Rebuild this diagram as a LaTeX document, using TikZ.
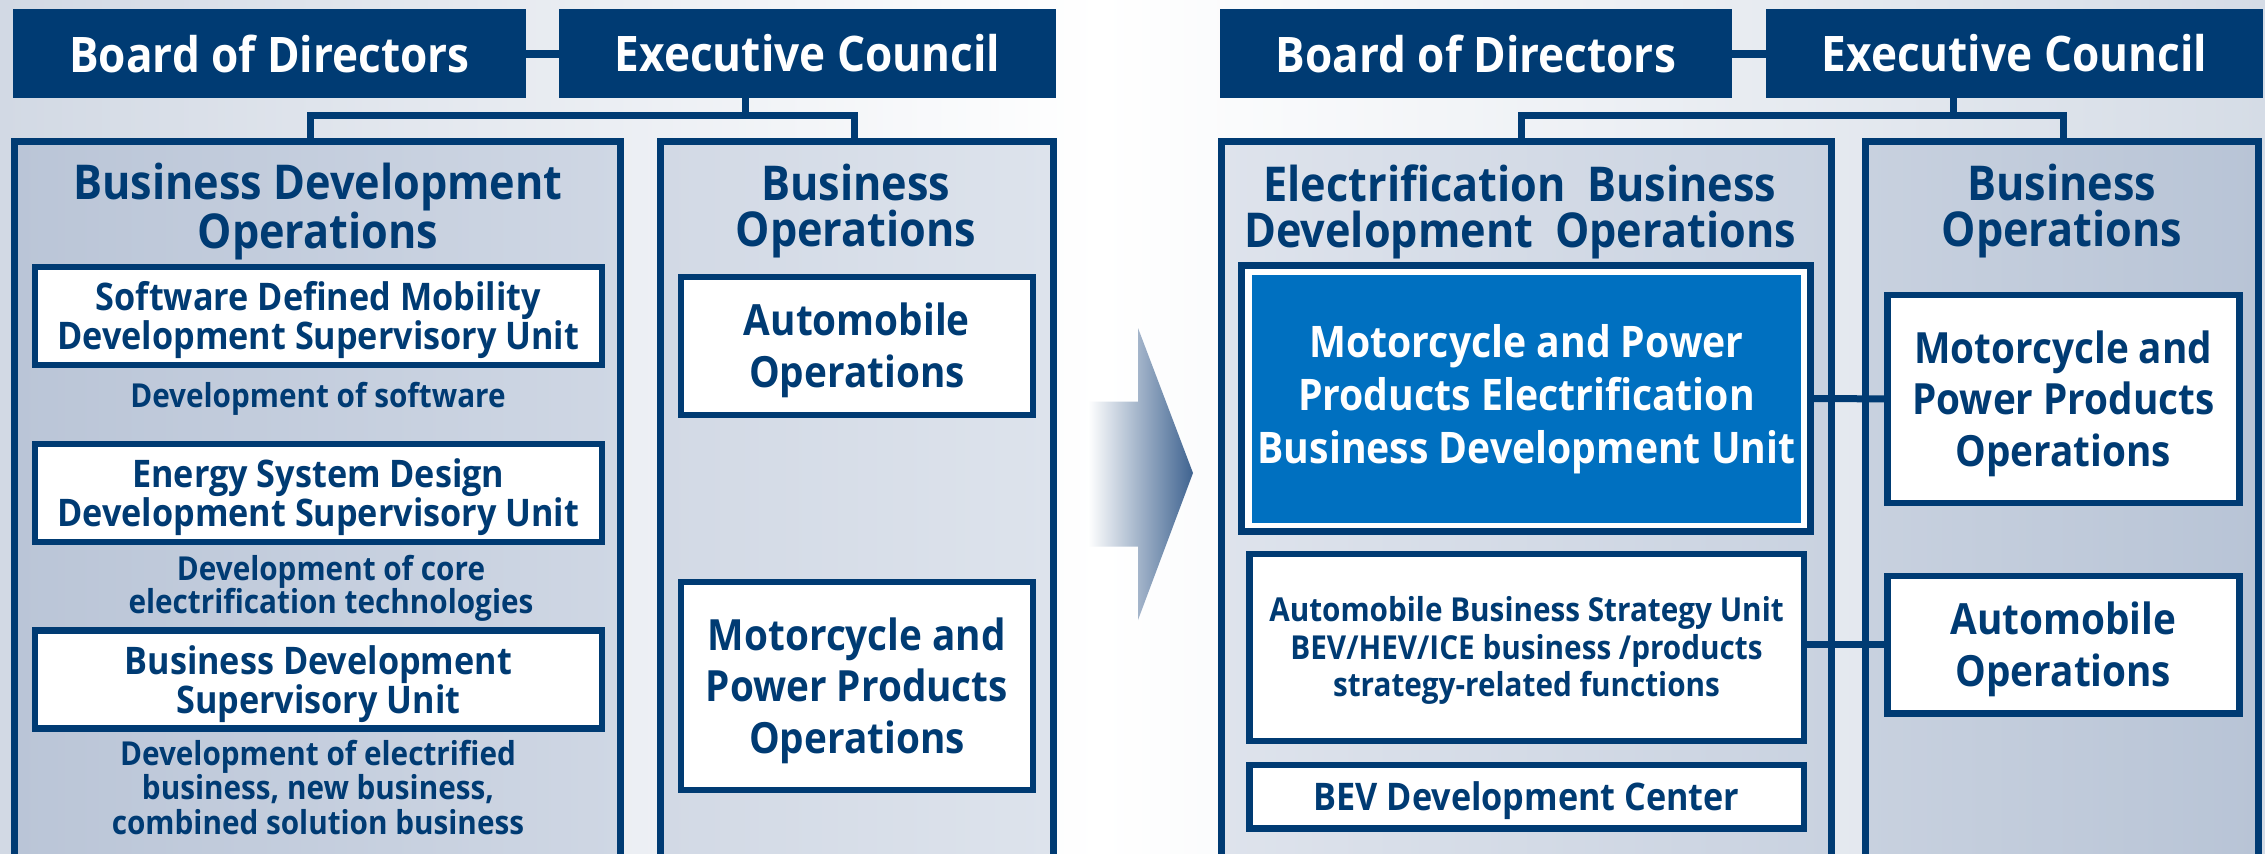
\documentclass[tikz,border=0pt]{standalone}
\usepackage{fontspec}
\setmainfont{Open Sans}[FakeStretch=0.9]
\usetikzlibrary{calc}
\definecolor{navy}{HTML}{003B73}
\definecolor{hlblue}{HTML}{0070C0}
\definecolor{arrowc}{HTML}{3F6390}
\definecolor{bgsideL}{HTML}{D2D9E4}
\definecolor{bgsideR}{HTML}{D5DCE6}
\definecolor{frLa}{HTML}{BAC5D7}
\definecolor{frLb}{HTML}{CFD7E4}
\definecolor{frLc}{HTML}{D2D9E5}
\definecolor{frLd}{HTML}{DDE3EC}
\definecolor{frRa}{HTML}{DEE3EC}
\definecolor{frRb}{HTML}{C9D2E0}
\definecolor{frRc}{HTML}{C8D1DF}
\definecolor{frRd}{HTML}{B8C4D6}
\newcommand\myfs[2]{\fontsize{#1}{#2}\selectfont\bfseries}
\newcommand\dn[1]{\rule{0pt}{#1}}
\begin{document}
\begin{tikzpicture}[x=1pt,y=-1pt,
  hdr/.style={fill=navy, text=white, inner sep=0pt, minimum height=89pt, font=\myfs{49}{49}},
  frame/.style={draw=navy, line width=7pt, inner sep=0pt, minimum height=758.5pt},
  ttl/.style={text=navy, align=center, inner sep=0pt, font=\myfs{48}{46}},
  tdown/.style={execute at begin node={\rule{0pt}{#1}}},
  unit/.style={draw=navy, line width=6.5pt, fill=white, inner sep=0pt, text=navy, align=center},
  smallunit/.style={unit, font=\myfs{38}{39}, minimum width=566.9pt, minimum height=98pt},
  bigunit/.style={unit, font=\myfs{43}{51.5}, minimum width=352pt},
  desc/.style={text=navy, align=center, inner sep=0pt, font=\myfs{33}{33.5}},
  conn/.style={draw=navy, line width=7pt},
  hdrconn/.style={draw=navy, line width=8pt}
]
\useasboundingbox (0,0) rectangle (2265,854);
\clip (0,0) rectangle (2265,854);
% background
\shade[left color=bgsideL, right color=white] (0,0) rectangle (1100,854);
\shade[left color=white, right color=bgsideR] (1100,0) rectangle (2265,854);

% ================= LEFT =================
\node[hdr, minimum width=513pt] (bodL) at (269.5,53.5) {Board of Directors};
\node[hdr, minimum width=497pt] (excL) at (807.5,53.5) {Executive Council};
\draw[hdrconn] (bodL.east) -- (excL.west);

\node[frame, minimum width=606.5pt, left color=frLa, right color=frLb] (frL1) at (317.25,520.75) {};
\node[frame, minimum width=393pt, left color=frLc, right color=frLd] (frL2) at (857,520.75) {};

\coordinate (jL) at (745.6,115.5);
\coordinate (aL1) at (310.9,141.5);
\coordinate (aL2) at (854.5,141.5);
\draw[conn] ([xshift=-61.9pt]excL.south) -- (jL);
\draw[conn] (aL1) |- (jL) -| (aL2);

\node[ttl] (tL1) at (318,211.5) {Business Development\\Operations};
\node[ttl] (tL2) at (856,211.5) {Business\\Operations};

\node[smallunit] (sdm) at (318.3,315.75) {\dn{37.9pt}Software Defined Mobility\\Development Supervisory Unit};
\node[desc] (dsw) at (318,398.5) {Development of software};
\node[smallunit] (esd) at (318.3,493.1) {\dn{37.9pt}Energy System Design\\Development Supervisory Unit};
\node[desc] (dcore) at (331,588.5) {Development of core\\electrification technologies};
\node[smallunit] (bdsu) at (318.3,679.5) {\dn{37.9pt}Business Development\\Supervisory Unit};
\node[desc, font=\myfs{33}{34.7}] (delec) at (318,787.3) {Development of electrified\\business, new business,\\combined solution business};

\node[bigunit, minimum height=138pt] (autoL) at (856.9,346) {\dn{41.7pt}Automobile\\Operations};
\node[bigunit, minimum height=208pt] (motoL) at (856.9,685.9) {\dn{41.7pt}Motorcycle and\\Power Products\\Operations};

% ================= ARROW =================
\shade[left color=white, right color=arrowc]
  (1088,401.7) -- (1138,401.7) -- (1138,328) -- (1193,473) -- (1138,620) -- (1138,546.7) -- (1088,546.7) -- cycle;

% ================= RIGHT =================
\node[hdr, minimum width=512pt] (bodR) at (1475.8,53.5) {Board of Directors};
\node[hdr, minimum width=497pt] (excR) at (2014.4,53.5) {Executive Council};
\draw[hdrconn] (bodR.east) -- (excR.west);

\node[frame, minimum width=610pt, left color=frRa, right color=frRb] (frR1) at (1526.5,520.75) {};
\node[frame, minimum width=393pt, left color=frRc, right color=frRd] (frR2) at (2062,520.75) {};

\coordinate (jR) at (1953,115.5);
\coordinate (aR1) at (1521,141.5);
\coordinate (aR2) at (2063.5,141.5);
\draw[conn] ([xshift=-61.4pt]excR.south) -- (jR);
\draw[conn] (aR1) |- (jR) -| (aR2);

\node[ttl] (tR1) at (1520,211.5) {Electrification\hspace{22pt}Business\\Development\hspace{22pt}Operations};
\node[ttl] (tR2) at (2062,211.5) {Business\\Operations};

\node[draw=navy, line width=7pt, fill=white, inner sep=0pt, minimum width=569pt, minimum height=266pt] (hl) at (1526,398.5) {};
\node[fill=hlblue, text=white, align=center, inner sep=0pt, minimum width=549pt, minimum height=248pt, font=\myfs{43.5}{53}] (hlin) at (1526.5,399) {Motorcycle and Power\\Products Electrification\\Business Development Unit};

\node[unit, font=\myfs{33}{37.6}, minimum width=554.5pt, minimum height=187.2pt] (abs) at (1526.5,647.35) {\dn{31.5pt}Automobile Business Strategy Unit\\BEV/HEV/ICE business /products\\strategy-related functions};
\node[unit, font=\myfs{38}{38}, minimum width=554.5pt, minimum height=63.7pt, tdown=36.4pt] (bev) at (1526.5,796.6) {BEV Development Center};

\node[bigunit, minimum height=208pt] (motoR) at (2063.4,398.9) {\dn{41.7pt}Motorcycle and\\Power Products\\Operations};
\node[bigunit, minimum height=137.6pt] (autoR) at (2063.4,644.85) {\dn{41.7pt}Automobile\\Operations};

\draw[conn] (hl.east) -- (motoR.west);
\draw[conn] (autoR.west -| abs.east) -- (autoR.west);
\end{tikzpicture}
\end{document}
